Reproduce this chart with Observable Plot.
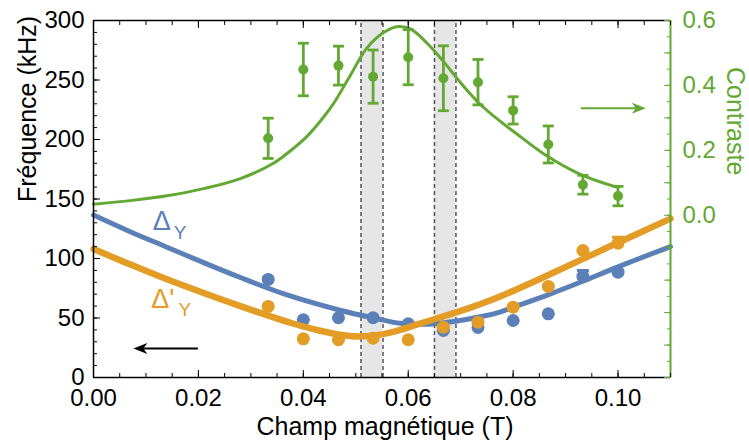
<!DOCTYPE html>
<html><head><meta charset="utf-8">
<script src="https://cdn.jsdelivr.net/npm/d3@7"></script>
<script src="https://cdn.jsdelivr.net/npm/@observablehq/plot@0.6"></script>
<style>
body{margin:0;background:#fff}
svg{font-family:"Liberation Sans",Arial,Helvetica,sans-serif}
</style>
</head><body><div id="chart"></div>
<script>
// ---- measured points ----
const fieldT = [0.0333, 0.04, 0.0467, 0.0533, 0.06, 0.0667, 0.0733, 0.08, 0.0867, 0.0933, 0.1];
const contraste = [0.237, 0.449, 0.461, 0.427, 0.487, 0.422, 0.410, 0.323, 0.218, 0.094, 0.059];
const contrasteErr = [0.062, 0.081, 0.060, 0.082, 0.085, 0.100, 0.070, 0.042, 0.057, 0.029, 0.030];
const freqDelta = [82.4, 48.5, 50.2, 50.2, 45.1, 39.5, 42.0, 47.9, 53.5, 84.9, 88.5];
const freqDeltaErr = [0, 0, 0, 0, 0, 0, 0, 0, 0, 5, 0];
const freqDeltaPrime = [59.7, 32.5, 31.7, 33.0, 31.7, 42.3, 46.5, 59.1, 76.5, 106.7, 112.9];
const freqDeltaPrimeErr = [0, 0, 0, 0, 0, 0, 0, 0, 0, 0, 5];

// ---- fitted curves ----
const greenFitT = [0, 0.007, 0.014, 0.021, 0.028, 0.0343, 0.0375, 0.0407, 0.0435, 0.0458, 0.049, 0.0521, 0.0553, 0.0578, 0.0604, 0.0636, 0.0667, 0.0699, 0.0737, 0.0775, 0.0801, 0.0864, 0.0928, 0.1];
const greenFit = [0.034, 0.045, 0.060, 0.082, 0.113, 0.160, 0.198, 0.243, 0.295, 0.345, 0.432, 0.515, 0.563, 0.581, 0.574, 0.530, 0.474, 0.410, 0.342, 0.290, 0.258, 0.183, 0.126, 0.085];
const blueFitT = [0, 0.007, 0.014, 0.021, 0.028, 0.0375, 0.047, 0.0534, 0.0585, 0.0636, 0.0693, 0.0737, 0.0775, 0.08, 0.0864, 0.0928, 0.1, 0.11];
const blueFit = [136.5, 122.5, 109.5, 96.5, 84, 68.5, 56.5, 50, 45.5, 44.8, 47.5, 51, 55, 59, 69, 80, 93, 110];
const orangeFitT = [0, 0.007, 0.014, 0.021, 0.028, 0.0375, 0.043, 0.047, 0.0505, 0.0547, 0.0585, 0.0613, 0.0661, 0.07, 0.0737, 0.0775, 0.0864, 0.0991, 0.11];
const orangeFit = [108, 95, 82.5, 71, 60, 46, 39.5, 36, 34.5, 36, 40, 44, 50.5, 56, 61.5, 68, 85.5, 111.5, 133.5];

// ---- shaded field windows ----
const bandStart = [0.0510, 0.0650];
const bandEnd = [0.0552, 0.0691];

// ---- axes ----
const xDomain = [0, 0.11];
const freqDomain = [0, 300];
const contrasteDomain = [-0.5, 0.6];
const xTickLabels = [0, 0.02, 0.04, 0.06, 0.08, 0.10];
const freqTickLabels = [0, 50, 100, 150, 200, 250, 300];
const contrasteTickLabels = [0.0, 0.2, 0.4, 0.6];

// ---- annotations ----
const deltaLabel = {x: 0.0113, y: 131, sx: 0.0153, sy: 121.5};
const deltaPrimeLabel = {x: 0.0110, y: 66, sx: 0.0162, sy: 56.5};
const leftArrow = {x1: 0.0199, x2: 0.0076, y: 24.4};
const rightArrow = {x1: 0.0929, x2: 0.1053, c: 0.33};

const BLUE = "#5b80b8", ORANGE = "#e39d26", GREEN = "#62a832";
const toLeft = c => (c - contrasteDomain[0]) / (contrasteDomain[1] - contrasteDomain[0]) * (freqDomain[1] - freqDomain[0]) + freqDomain[0];
const fromLeft = v => (v - freqDomain[0]) / (freqDomain[1] - freqDomain[0]) * (contrasteDomain[1] - contrasteDomain[0]) + contrasteDomain[0];

const pts = fieldT.map((t, i) => ({
  t, c: toLeft(contraste[i]), c1: toLeft(contraste[i] - contrasteErr[i]), c2: toLeft(contraste[i] + contrasteErr[i]),
  d: freqDelta[i], d1: freqDelta[i] - freqDeltaErr[i], d2: freqDelta[i] + freqDeltaErr[i],
  p: freqDeltaPrime[i], p1: freqDeltaPrime[i] - freqDeltaPrimeErr[i], p2: freqDeltaPrime[i] + freqDeltaPrimeErr[i]
}));
const greenCurve = greenFitT.map((t, i) => ({t, v: toLeft(greenFit[i])}));
const blueCurve = blueFitT.map((t, i) => ({t, v: blueFit[i]}));
const orangeCurve = orangeFitT.map((t, i) => ({t, v: orangeFit[i]}));
const bands = bandStart.map((s, i) => ({s, e: bandEnd[i]}));

const capSymbol = {draw(ctx, size) { const r = Math.sqrt(size / Math.PI); ctx.moveTo(-r, 0); ctx.lineTo(r, 0); }};
// stealth arrow head, tip at origin, pointing right (fixed pixel size)
const headSymbol = {draw(ctx) { ctx.moveTo(0, 0); ctx.lineTo(-14, -5.5); ctx.lineTo(-10, 0); ctx.lineTo(-14, 5.5); ctx.closePath(); }};

const xMinor = d3.range(0, 0.1101, 0.005);
const xMajor = xTickLabels;
const yMinor = d3.range(0, 301, 10);
const yMajor = freqTickLabels;
const cMinor = d3.range(-0.5, 0.6001, 0.05).map(toLeft);
const cMajor = d3.range(-0.5, 0.6001, 0.1).map(toLeft);
const FS = 24;

const chart = Plot.plot({
  width: 749, height: 447,
  marginLeft: 93, marginRight: 79, marginTop: 20, marginBottom: 70,
  x: {domain: xDomain},
  y: {domain: freqDomain},
  marks: [
    Plot.rectX(bands, {x1: "s", x2: "e", y1: freqDomain[0], y2: freqDomain[1], fill: "#e6e6e6"}),
    Plot.ruleX(bands, {x: "s", y1: freqDomain[0], y2: freqDomain[1], stroke: "#555", strokeWidth: 1.5, strokeDasharray: "4,3"}),
    Plot.ruleX(bands, {x: "e", y1: freqDomain[0], y2: freqDomain[1], stroke: "#555", strokeWidth: 1.5, strokeDasharray: "4,3"}),
    // green contrast
    Plot.line(greenCurve, {x: "t", y: "v", stroke: GREEN, strokeWidth: 3, curve: "catmull-rom"}),
    Plot.ruleX(pts, {x: "t", y1: "c1", y2: "c2", stroke: GREEN, strokeWidth: 2.8}),
    Plot.dot(pts, {x: "t", y: "c1", symbol: capSymbol, r: 5.5, stroke: GREEN, strokeWidth: 2.8, fill: "none"}),
    Plot.dot(pts, {x: "t", y: "c2", symbol: capSymbol, r: 5.5, stroke: GREEN, strokeWidth: 2.8, fill: "none"}),
    Plot.dot(pts, {x: "t", y: "c", r: 5, fill: GREEN}),
    // blue
    Plot.line(blueCurve, {x: "t", y: "v", stroke: BLUE, strokeWidth: 5, curve: "catmull-rom"}),
    Plot.ruleX(pts, {x: "t", y1: "d1", y2: "d2", stroke: BLUE, strokeWidth: 3}),
    Plot.dot(pts, {x: "t", y: "d2", symbol: capSymbol, r: 6, stroke: BLUE, strokeWidth: 3, fill: "none"}),
    Plot.dot(pts, {x: "t", y: "d", r: 6.5, fill: BLUE}),
    // orange
    Plot.line(orangeCurve, {x: "t", y: "v", stroke: ORANGE, strokeWidth: 6.5, curve: "catmull-rom"}),
    Plot.ruleX(pts, {x: "t", y1: "p1", y2: "p2", stroke: ORANGE, strokeWidth: 3}),
    Plot.dot(pts, {x: "t", y: "p2", symbol: capSymbol, r: 6, stroke: ORANGE, strokeWidth: 3, fill: "none"}),
    Plot.dot(pts, {x: "t", y: "p", r: 6.5, fill: ORANGE}),
    // labels
    Plot.text(["Δ"], {x: deltaLabel.x, y: deltaLabel.y, text: d => d, fill: BLUE, fontSize: 27, textAnchor: "start"}),
    Plot.text(["Y"], {x: deltaLabel.sx, y: deltaLabel.sy, text: d => d, fill: BLUE, fontSize: 19, textAnchor: "start"}),
    Plot.text(["Δ'"], {x: deltaPrimeLabel.x, y: deltaPrimeLabel.y, text: d => d, fill: ORANGE, fontSize: 27, textAnchor: "start"}),
    Plot.text(["Y"], {x: deltaPrimeLabel.sx, y: deltaPrimeLabel.sy, text: d => d, fill: ORANGE, fontSize: 19, textAnchor: "start"}),
    // arrows
    Plot.link([leftArrow], {x1: "x1", x2: d => d.x2 + 0.0015, y1: "y", y2: "y", stroke: "black", strokeWidth: 2}),
    Plot.dot([leftArrow], {x: "x2", y: "y", symbol: headSymbol, r: 8, rotate: 180, fill: "black", stroke: "none"}),
    Plot.link([rightArrow], {x1: "x1", x2: d => d.x2 - 0.0015, y1: d => toLeft(d.c), y2: d => toLeft(d.c), stroke: GREEN, strokeWidth: 2}),
    Plot.dot([rightArrow], {x: "x2", y: d => toLeft(d.c), symbol: headSymbol, r: 8, fill: GREEN, stroke: "none"}),
    // frame
    Plot.ruleY([freqDomain[0], freqDomain[1]], {stroke: "black", strokeWidth: 1.5}),
    Plot.ruleX([xDomain[0]], {stroke: "black", strokeWidth: 1.5}),
    Plot.ruleX([xDomain[1]], {stroke: GREEN, strokeWidth: 2}),
    // ticks (inward)
    Plot.axisX({anchor: "bottom", ticks: xMinor, tickSize: -4, text: null, label: null}),
    Plot.axisX({anchor: "bottom", ticks: xMajor, tickSize: -7, text: null, label: null}),
    Plot.axisX({anchor: "top", ticks: xMinor, tickSize: -4, text: null, label: null}),
    Plot.axisX({anchor: "top", ticks: xMajor, tickSize: -7, text: null, label: null}),
    Plot.axisX({anchor: "bottom", ticks: xTickLabels, tickSize: 0, tickPadding: 11, tickFormat: d3.format(".2f"), fontSize: FS, label: null}),
    Plot.axisY({anchor: "left", ticks: yMinor, tickSize: -4, text: null, label: null}),
    Plot.axisY({anchor: "left", ticks: yMajor, tickSize: -7, text: null, label: null}),
    Plot.axisY({anchor: "left", ticks: freqTickLabels, tickSize: 0, tickPadding: 9, fontSize: FS, label: null}),
    Plot.axisY({anchor: "right", ticks: cMinor, tickSize: -4, text: null, label: null, color: GREEN}),
    Plot.axisY({anchor: "right", ticks: cMajor, tickSize: -7, text: null, label: null, color: GREEN}),
    Plot.axisY({anchor: "right", ticks: contrasteTickLabels.map(toLeft), tickSize: 0, tickPadding: 12, tickFormat: v => d3.format(".1f")(fromLeft(v)), fontSize: FS, label: null, color: GREEN}),
    // titles
    Plot.text(["Champ magnétique (T)"], {frameAnchor: "bottom", dy: 57, dx: 3, text: d => d, fontSize: 25, fill: "black"}),
    Plot.text(["Fréquence (kHz)"], {frameAnchor: "left", dx: -66, dy: 3, rotate: -90, text: d => d, fontSize: 25, fill: "black"}),
    Plot.text(["Contraste"], {x: xDomain[1], y: toLeft(0.29), dx: 64, rotate: 90, text: d => d, fontSize: 25, fill: GREEN})
  ]
});
document.getElementById("chart").appendChild(chart);
</script>
</body></html>
